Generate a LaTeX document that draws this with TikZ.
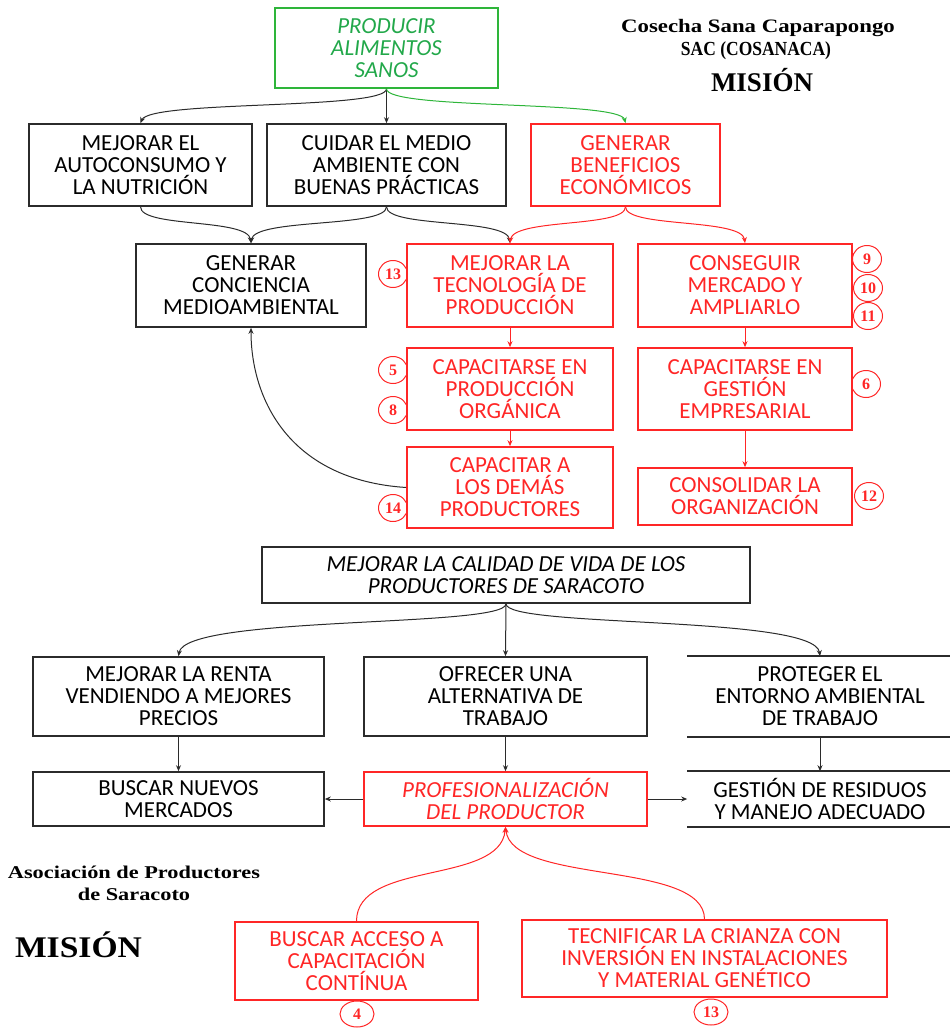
\documentclass[tikz,border=0pt]{standalone}
\usepackage{fontspec}
\newfontfamily\boxfont{Carlito}
\newfontfamily\titleserif{Liberation Serif}
\usetikzlibrary{arrows.meta,shapes.geometric}
\definecolor{boxred}{HTML}{FF2626}
\definecolor{boxgreen}{HTML}{2EB53A}
\definecolor{txtgreen}{HTML}{22A84A}
\definecolor{boxblack}{HTML}{2B2B2B}
\begin{document}
\begin{tikzpicture}[x=1pt,y=-1pt,
  box/.style={draw=boxblack, line width=1.6pt, align=center, inner sep=0pt,
    font=\boxfont\fontsize{23}{22}\selectfont, text=black},
  redbox/.style={box, draw=boxred, text=boxred},
  greenbox/.style={box, draw=boxgreen, text=txtgreen,
    font=\boxfont\itshape\fontsize{23}{22}\selectfont},
  openbox/.style={box, draw=none},
  num/.style={ellipse, draw=boxred, line width=1pt, inner sep=0pt,
    minimum width=29, minimum height=27, text=boxred,
    font=\titleserif\bfseries\fontsize{16}{16}\selectfont},
  numwide/.style={num, minimum width=34, minimum height=26},
  conn/.style={-{Stealth[length=6pt,width=5pt]}, line width=1pt, color=boxblack},
  redconn/.style={conn, color=boxred},
  greenconn/.style={conn, color=boxgreen},
  heading/.style={font=\titleserif\bfseries\fontsize{19}{19}\selectfont, inner sep=0pt},
  bigheading/.style={font=\titleserif\bfseries\fontsize{27}{27}\selectfont, inner sep=0pt}
]
\useasboundingbox (0,0) rectangle (950,1028);

% ---------- Cosecha Sana Caparapongo ----------
\node[heading] (t1) at (758,28) {\scalebox{1.2}[1]{Cosecha Sana Caparapongo}};
\node[heading] (t2) at (756,51) {\scalebox{0.92}[1.05]{SAC (COSANACA)}};
\node[bigheading] (t3) at (762,80) {MISIÓN};

\node[greenbox, minimum width=223, minimum height=80] (prod) at (386.5,48) {PRODUCIR\\ALIMENTOS\\SANOS};

\node[box, minimum width=223, minimum height=82] (auto) at (140.5,165) {MEJORAR EL\\AUTOCONSUMO Y\\LA NUTRICIÓN};
\node[box, minimum width=239, minimum height=82] (cuidar) at (386.5,165) {CUIDAR EL MEDIO\\AMBIENTE CON\\BUENAS PRÁCTICAS};
\node[redbox, minimum width=189, minimum height=82] (benef) at (625.5,165) {GENERAR\\BENEFICIOS\\ECONÓMICOS};

\node[box, minimum width=230, minimum height=83] (conc) at (251,285.5) {GENERAR\\CONCIENCIA\\MEDIOAMBIENTAL};
\node[redbox, minimum width=206, minimum height=83] (tec) at (510,285.5) {MEJORAR LA\\TECNOLOGÍA DE\\PRODUCCIÓN};
\node[redbox, minimum width=214, minimum height=83] (merc) at (745,285.5) {CONSEGUIR\\MERCADO Y\\AMPLIARLO};

\node[redbox, minimum width=206, minimum height=82] (capprod) at (510,389) {CAPACITARSE EN\\PRODUCCIÓN\\ORGÁNICA};
\node[redbox, minimum width=214, minimum height=82] (capgest) at (745,389) {CAPACITARSE EN\\GESTIÓN\\EMPRESARIAL};

\node[redbox, minimum width=206, minimum height=81] (capac) at (510,487.5) {CAPACITAR A\\LOS DEMÁS\\PRODUCTORES};
\node[redbox, minimum width=214, minimum height=57] (consol) at (745,496.5) {CONSOLIDAR LA\\ORGANIZACIÓN};

\node[num] (n13a) at (393,274) {13};
\node[num] (n9) at (867,259) {9};
\node[num] (n10) at (868,288) {10};
\node[num] (n11) at (868,316) {11};
\node[num] (n5) at (393,370) {5};
\node[num] (n8) at (393,410) {8};
\node[num] (n6) at (866,384) {6};
\node[num] (n14) at (393,508) {14};
\node[num] (n12) at (869,496) {12};

\draw[conn] (prod.south) .. controls (386.5,110) and (150,100) .. (auto.north);
\draw[conn] (prod.south) -- (cuidar.north);
\draw[greenconn] (prod.south) .. controls (386.5,110) and (620,100) .. (benef.north);

\draw[conn] (auto.south) .. controls (140.5,228) and (248,218) .. (conc.north);
\draw[conn] (cuidar.south) .. controls (386.5,228) and (254,218) .. (conc.north);
\draw[conn] (cuidar.south) .. controls (386.5,228) and (507,218) .. (tec.north);
\draw[redconn] (benef.south) .. controls (625.5,228) and (513,218) .. (tec.north);
\draw[redconn] (benef.south) .. controls (625.5,228) and (742,218) .. (merc.north);

\draw[redconn] (tec.south) -- (capprod.north);
\draw[redconn] (capprod.south) -- (capac.north);
\draw[redconn] (merc.south) -- (capgest.north);
\draw[redconn] (capgest.south) -- (consol.north);
\draw[conn] (capac.west) .. controls (290,480) and (251,400) .. (conc.south);

% ---------- Asociación de Productores de Saracoto ----------
\node[heading, font=\titleserif\bfseries\fontsize{18}{18}\selectfont] (a1) at (134,872) {\scalebox{1.24}[1]{Asociación de Productores}};
\node[heading, font=\titleserif\bfseries\fontsize{18}{18}\selectfont] (a2) at (134,894) {\scalebox{1.24}[1]{de Saracoto}};
\node[bigheading, font=\titleserif\bfseries\fontsize{30}{30}\selectfont] (a3) at (78.5,945) {\scalebox{1.12}[1]{MISIÓN}};

\node[box, minimum width=488, minimum height=56, font=\boxfont\itshape\fontsize{23}{22}\selectfont] (calidad) at (506,575) {MEJORAR LA CALIDAD DE VIDA DE LOS\\PRODUCTORES DE SARACOTO};

\node[box, minimum width=291, minimum height=79] (renta) at (178.5,696.5) {MEJORAR LA RENTA\\VENDIENDO A MEJORES\\PRECIOS};
\node[box, minimum width=283, minimum height=79] (ofrecer) at (505.5,696.5) {OFRECER UNA\\ALTERNATIVA DE\\TRABAJO};
\node[openbox, minimum width=264, minimum height=79] (prot) at (820,696.5) {PROTEGER EL\\ENTORNO AMBIENTAL\\DE TRABAJO};
\draw[line width=1.6pt, boxblack] (prot.north west) -- (prot.north east)
  (prot.south west) -- (prot.south east);

\node[box, minimum width=291, minimum height=54] (buscar) at (178.5,799) {BUSCAR NUEVOS\\MERCADOS};
\node[redbox, minimum width=283, minimum height=54, font=\boxfont\itshape\fontsize{23}{22}\selectfont] (prof) at (505.5,799) {PROFESIONALIZACIÓN\\DEL PRODUCTOR};
\node[openbox, minimum width=264, minimum height=54] (gest) at (820,799) {GESTIÓN DE RESIDUOS\\Y MANEJO ADECUADO};
\draw[line width=1.6pt, boxblack] (gest.north west) -- (gest.north east)
  (gest.south west) -- (gest.south east);

\node[redbox, minimum width=243, minimum height=78] (acceso) at (356.5,961) {BUSCAR ACCESO A\\CAPACITACIÓN\\CONTÍNUA};
\node[redbox, minimum width=365, minimum height=77] (tecn) at (704.5,958.5) {TECNIFICAR LA CRIANZA CON\\INVERSIÓN EN INSTALACIONES\\Y MATERIAL GENÉTICO};

\node[numwide] (n4) at (357,1014) {4};
\node[numwide] (n13b) at (711,1012) {13};

\draw[conn] (calidad.south) .. controls (506,628) and (185,615) .. (renta.north);
\draw[conn] (calidad.south) -- (ofrecer.north);
\draw[conn] (calidad.south) .. controls (506,628) and (815,615) .. (prot.north);

\draw[conn] (renta.south) -- (buscar.north);
\draw[conn] (ofrecer.south) -- (prof.north);
\draw[conn] (prot.south) -- (gest.north);
\draw[conn] (prof.west) -- (buscar.east);
\draw[conn] (prof.east) -- (gest.west);

\draw[redconn] (acceso.north) .. controls (356.5,860) and (500,885) .. (prof.south);
\draw[redconn] (tecn.north) .. controls (704.5,860) and (512,885) .. (prof.south);
\end{tikzpicture}
\end{document}
